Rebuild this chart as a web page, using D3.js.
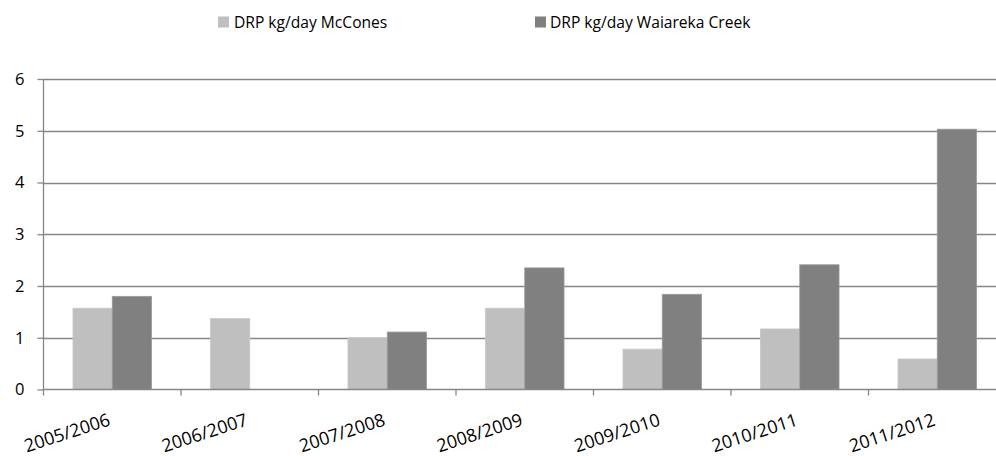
<!DOCTYPE html>
<html>
<head>
<meta charset="utf-8">
<script src="https://cdn.jsdelivr.net/npm/d3@7"></script>
<style>
  html, body { margin: 0; padding: 0; background: #fff; }
  svg { display: block; overflow: hidden; }
  text { font-family: "Open Sans", "Noto Sans", sans-serif; fill: #000; }
</style>
</head>
<body>
<svg id="chart" width="996" height="456"></svg>
<script>
// Dissolved reactive phosphorus loads, kg/day, by year
const years = ["2005/2006", "2006/2007", "2007/2008", "2008/2009", "2009/2010", "2010/2011", "2011/2012"];
const mcCones = [1.57, 1.37, 1.0, 1.57, 0.78, 1.17, 0.59];
const waiareka = [1.80, null, 1.11, 2.35, 1.84, 2.41, 5.03];
const seriesNames = ["DRP kg/day McCones", "DRP kg/day Waiareka Creek"];
const seriesColors = ["#bfbfbf", "#808080"];
const yTicks = [0, 1, 2, 3, 4, 5, 6];

const svg = d3.select("#chart");
const plot = { left: 43.5, right: 1006, top: 79, bottom: 389.5 };

const x = d3.scaleBand().domain(years).range([plot.left, plot.right]).padding(0);
const y = d3.scaleLinear().domain([0, 6]).range([plot.bottom, plot.top]);

// two bars per year with a 150% gap between groups
const barW = x.bandwidth() / 3.5;
const groupOffset = barW * 0.75;

const gridColor = "#868686";

// horizontal gridlines
svg.append("g")
  .selectAll("line")
  .data(yTicks.filter(d => d > 0))
  .join("line")
  .attr("x1", plot.left).attr("x2", plot.right)
  .attr("y1", d => Math.round(y(d)) + 0.5).attr("y2", d => Math.round(y(d)) + 0.5)
  .attr("stroke", gridColor).attr("stroke-width", 1.3);

// bars
const series = [mcCones, waiareka];
series.forEach((vals, si) => {
  svg.append("g")
    .selectAll("rect")
    .data(years.map((yr, i) => ({ yr, v: vals[i] })).filter(d => d.v != null))
    .join("rect")
    .attr("x", d => x(d.yr) + groupOffset + si * barW)
    .attr("y", d => y(d.v))
    .attr("width", barW)
    .attr("height", d => y(0) - y(d.v))
    .attr("fill", seriesColors[si])
    .attr("stroke", si === 1 ? "#9a9a9a" : "#c8c8c8")
    .attr("stroke-width", 0.8);
});

// y axis
const yAxis = d3.axisLeft(y).tickValues(yTicks).tickSize(6).tickPadding(13).tickFormat(d3.format("d"));
const gy = svg.append("g").attr("transform", `translate(${plot.left},0)`).call(yAxis);
gy.select(".domain").attr("stroke", gridColor).attr("stroke-width", 1.3)
  .attr("d", `M0,${plot.top}V${plot.bottom}`);
gy.selectAll(".tick line").attr("stroke", gridColor).attr("stroke-width", 1.3);
gy.selectAll(".tick text").attr("font-size", 16.5).attr("font-family", "\"Open Sans\", sans-serif").attr("fill", "#000");

// x axis baseline with ticks at category boundaries
const gx = svg.append("g");
gx.append("line")
  .attr("x1", plot.left).attr("x2", plot.right)
  .attr("y1", plot.bottom).attr("y2", plot.bottom)
  .attr("stroke", gridColor).attr("stroke-width", 1.3);
gx.selectAll("line.tick")
  .data(years)
  .join("line")
  .attr("class", "tick")
  .attr("x1", d => x(d)).attr("x2", d => x(d))
  .attr("y1", plot.bottom).attr("y2", plot.bottom + 6)
  .attr("stroke", gridColor).attr("stroke-width", 1.3);

// slanted category labels
gx.selectAll("text")
  .data(years)
  .join("text")
  .attr("transform", d => `translate(${x(d) + x.bandwidth() / 2 - 1},${plot.bottom + 35.5}) rotate(-18)`)
  .attr("text-anchor", "end")
  .attr("font-size", 18)
  .text(d => d);

// legend
const legendItems = [
  { name: seriesNames[0], color: seriesColors[0], sx: 218, tx: 234 },
  { name: seriesNames[1], color: seriesColors[1], sx: 535, tx: 550 }
];
const lg = svg.append("g");
legendItems.forEach(it => {
  lg.append("rect").attr("x", it.sx).attr("y", 16.5).attr("width", 11).attr("height", 11).attr("fill", it.color);
  lg.append("text").attr("x", it.tx).attr("y", 28).attr("font-size", 15.6).text(it.name);
});
</script>
</body>
</html>
